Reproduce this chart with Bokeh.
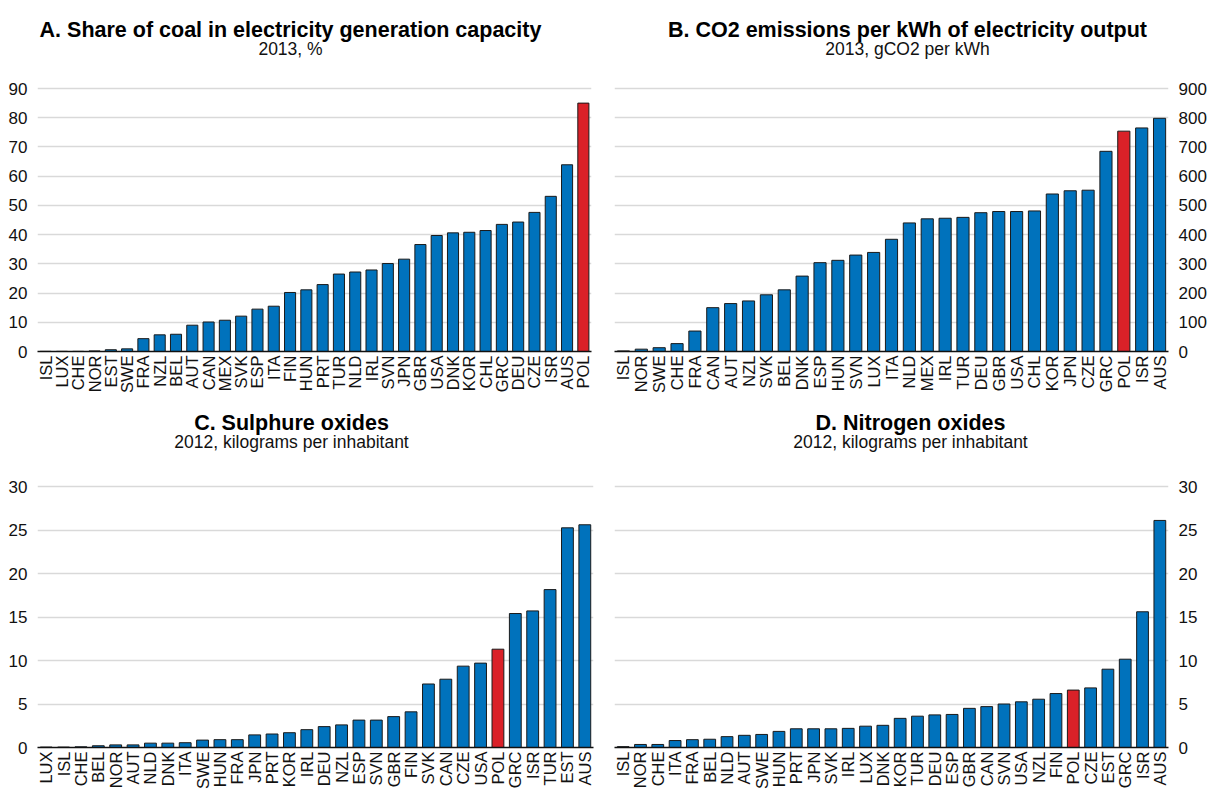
import math
from bokeh.plotting import figure
from bokeh.models import FactorRange, Range1d, FixedTicker, Label, ColumnDataSource
from bokeh.layouts import column, row
from bokeh.embed import file_html
from bokeh.resources import INLINE

# ---------------- data ----------------
cats_a = ["ISL", "LUX", "CHE", "NOR", "EST", "SWE", "FRA", "NZL", "BEL", "AUT", "CAN", "MEX",
          "SVK", "ESP", "ITA", "FIN", "HUN", "PRT", "TUR", "NLD", "IRL", "SVN", "JPN", "GBR",
          "USA", "DNK", "KOR", "CHL", "GRC", "DEU", "CZE", "ISR", "AUS", "POL"]
vals_a = [0.05, 0.05, 0.05, 0.2, 0.6, 0.9, 4.4, 5.7, 5.9, 9.0, 10.1, 10.7,
          12.1, 14.5, 15.5, 20.2, 21.1, 22.9, 26.5, 27.2, 27.9, 30.1, 31.6, 36.6,
          39.7, 40.6, 40.8, 41.4, 43.5, 44.3, 47.6, 53.1, 63.9, 85.0]

cats_b = ["ISL", "NOR", "SWE", "CHE", "FRA", "CAN", "AUT", "NZL", "SVK", "BEL", "DNK", "ESP",
          "HUN", "SVN", "LUX", "ITA", "NLD", "MEX", "IRL", "TUR", "DEU", "GBR", "USA", "CHL",
          "KOR", "JPN", "CZE", "GRC", "POL", "ISR", "AUS"]
vals_b = [2, 8, 13, 27, 70, 150, 164, 173, 194, 211, 258, 304,
          312, 330, 339, 384, 440, 454, 456, 459, 475, 479, 479, 481,
          539, 550, 552, 685, 754, 765, 798]

cats_c = ["LUX", "ISL", "CHE", "BEL", "NOR", "AUT", "NLD", "DNK", "ITA", "SWE", "HUN", "FRA",
          "JPN", "PRT", "KOR", "IRL", "DEU", "NZL", "ESP", "SVN", "GBR", "FIN", "SVK", "CAN",
          "CZE", "USA", "POL", "GRC", "ISR", "TUR", "EST", "AUS"]
vals_c = [0.05, 0.05, 0.08, 0.2, 0.3, 0.3, 0.5, 0.5, 0.55, 0.85, 0.9, 0.9,
          1.45, 1.55, 1.7, 2.05, 2.4, 2.6, 3.15, 3.15, 3.55, 4.1, 7.3, 7.85,
          9.35, 9.7, 11.3, 15.4, 15.7, 18.15, 25.25, 25.6]

cats_d = ["ISL", "NOR", "CHE", "ITA", "FRA", "BEL", "NLD", "AUT", "SWE", "HUN", "PRT", "JPN",
          "SVK", "IRL", "LUX", "DNK", "KOR", "TUR", "DEU", "ESP", "GBR", "CAN", "SVN", "USA",
          "NZL", "FIN", "POL", "CZE", "EST", "GRC", "ISR", "AUS"]
vals_d = [0.1, 0.35, 0.35, 0.8, 0.9, 0.95, 1.25, 1.4, 1.5, 1.85, 2.15, 2.15,
          2.15, 2.2, 2.45, 2.55, 3.35, 3.6, 3.75, 3.8, 4.5, 4.7, 5.0, 5.25,
          5.55, 6.2, 6.6, 6.85, 9.0, 10.15, 15.6, 26.1]

titles = ["A. Share of coal in electricity generation capacity",
          "B. CO2 emissions per kWh of electricity output",
          "C. Sulphure oxides",
          "D. Nitrogen oxides"]
subtitles = ["2013, %", "2013, gCO2 per kWh",
             "2012, kilograms per inhabitant", "2012, kilograms per inhabitant"]
ticks_a = [0, 10, 20, 30, 40, 50, 60, 70, 80, 90]
ticks_b = [0, 100, 200, 300, 400, 500, 600, 700, 800, 900]
ticks_cd = [0, 5, 10, 15, 20, 25, 30]
highlight = "POL"

BLUE = "#0072BC"
RED = "#DA2128"
FONT = "Liberation Sans"


def make_panel(cats, vals, ticks, title, subtitle, side, width, height, top0,
               left_px, right_px, bottom_px, ticktop_px, title_cx, base_main, base_sub):
    """Geometry given in page pixels; the frame spans the full height above the axis
    so that the panel titles can sit inside it above the top gridline."""
    n = len(cats)
    frame_h = bottom_px - top0
    ymax = ticks[-1] * frame_h / (bottom_px - ticktop_px)
    colors = [RED if c == highlight else BLUE for c in cats]
    src = ColumnDataSource(dict(x=cats, top=vals, color=colors))
    x0 = 0 if side == "left" else 600
    p = figure(x_range=FactorRange(factors=cats), y_range=Range1d(0, ymax),
               width=width, height=height, output_backend="svg", toolbar_location=None,
               title=None, y_axis_location=side,
               min_border_left=left_px - x0,
               min_border_right=width - (right_px - x0),
               min_border_top=0, min_border_bottom=top0 + height - bottom_px)
    p.vbar(x="x", top="top", width=0.68, source=src, fill_color="color",
           line_color="#1a1a1a", line_width=1)
    p.outline_line_color = None
    p.background_fill_color = "white"
    p.border_fill_color = "white"
    p.xgrid.grid_line_color = None
    p.ygrid.grid_line_color = "#d9d9d9"
    p.ygrid.grid_line_width = 1.5
    p.yaxis.ticker = FixedTicker(ticks=ticks)
    p.yaxis.axis_line_color = None
    p.yaxis.major_tick_line_color = None
    p.yaxis.minor_tick_line_color = None
    p.yaxis.major_tick_out = 0
    p.yaxis.major_tick_in = 0
    p.yaxis.major_label_standoff = 10
    p.yaxis.major_label_text_font = FONT
    p.yaxis.major_label_text_font_size = "17px"
    p.yaxis.major_label_text_color = "#111111"
    p.xaxis.axis_line_color = "#111111"
    p.xaxis.axis_line_width = 1.5
    p.xaxis.major_tick_line_color = None
    p.xaxis.minor_tick_line_color = None
    p.xaxis.major_tick_out = 0
    p.xaxis.major_tick_in = 0
    p.xaxis.major_label_orientation = math.pi / 2
    p.xaxis.major_label_standoff = 4
    p.xaxis.major_label_text_font = FONT
    p.xaxis.major_label_text_font_size = "16.5px"
    p.xaxis.major_label_text_color = "#111111"

    def dx(px):
        return (px - left_px) / (right_px - left_px) * n

    def dy(py):
        return (bottom_px - py) / frame_h * ymax

    p.add_layout(Label(x=dx(title_cx), y=dy(base_main), text=title,
                       text_align="center", text_baseline="alphabetic",
                       text_font=FONT, text_font_size="21.5px", text_font_style="bold",
                       text_color="#000000"))
    p.add_layout(Label(x=dx(title_cx), y=dy(base_sub), text=subtitle,
                       text_align="center", text_baseline="alphabetic",
                       text_font=FONT, text_font_size="17.5px", text_font_style="normal",
                       text_color="#111111"))
    return p


pa = make_panel(cats_a, vals_a, ticks_a, titles[0], subtitles[0], "left", 600, 400, 0,
                37, 591, 351, 88, 290, 29, 48)
pb = make_panel(cats_b, vals_b, ticks_b, titles[1], subtitles[1], "right", 610, 400, 0,
                614, 1168, 351, 88, 907, 29, 48)
pc = make_panel(cats_c, vals_c, ticks_cd, titles[2], subtitles[2], "left", 600, 392, 400,
                37, 593, 747, 486, 291, 422, 441.5)
pd = make_panel(cats_d, vals_d, ticks_cd, titles[3], subtitles[3], "right", 610, 392, 400,
                614, 1168, 747, 486, 910, 422, 441.5)

layout = column(row(pa, pb), row(pc, pd))
open("out.html", "w").write(file_html(layout, INLINE))
